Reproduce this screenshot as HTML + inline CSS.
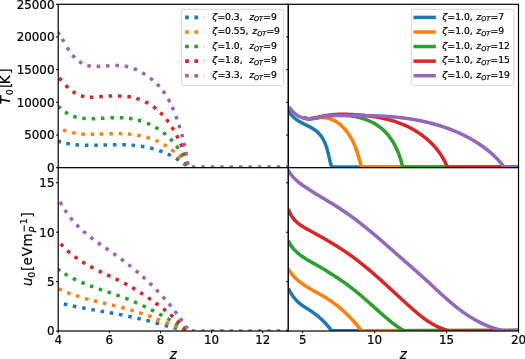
<!DOCTYPE html>
<html lang="en"><head><meta charset="utf-8"><title>T0 and u0 versus z</title>
<style>html,body{margin:0;padding:0;background:#fff}svg{display:block}text{font-family:"DejaVu Sans", "Liberation Sans", sans-serif;fill:#000;stroke:#000;stroke-width:0.22px}</style>
</head><body>
<svg width="525" height="359" viewBox="0 0 525 359">
<rect width="525" height="359" fill="#fff"/>
<defs>
<clipPath id="cTL"><rect x="58.2" y="4.3" width="230.10000000000002" height="163.39999999999998"/></clipPath>
<clipPath id="cTR"><rect x="288.3" y="4.3" width="230.2" height="163.39999999999998"/></clipPath>
<clipPath id="cBL"><rect x="58.2" y="167.7" width="230.10000000000002" height="163.3"/></clipPath>
<clipPath id="cBR"><rect x="288.3" y="167.7" width="230.2" height="163.3"/></clipPath>
</defs>
<g clip-path="url(#cTL)">
<path d="M57.66 140.97L61.05 142.02M66.33 143.3L69.82 143.94M75.47 144.68L79.01 144.99M84.89 145.27L88.44 145.33M94.27 145.28L97.81 145.2M103.48 145.02L107.02 144.9M112.9 144.73L116.45 144.67M122.34 144.69L125.89 144.79M131.59 145.13L135.13 145.45M140.93 146.19L144.43 146.78M150.17 147.98L153.61 148.85M159.18 150.55L162.52 151.76M167.77 153.96L170.97 155.51M175.96 158.29L178.96 160.2M183.45 163.45L186.2 165.7" stroke="#1f77b4" stroke-width="3.5" fill="none"/>
<path d="M62.99 129.83L66.33 131.05M72.17 132.62L75.66 133.26M81.34 133.92L84.89 134.14M90.65 134.24L94.2 134.19M99.84 134.02L103.39 133.9M109.28 133.7L112.83 133.63M118.72 133.62L122.26 133.7M127.91 134.02L131.44 134.37M137.25 135.21L140.73 135.89M146.42 137.29L149.81 138.33M155.33 140.35L158.58 141.77M163.75 144.42L166.79 146.25M171.48 149.53L174.24 151.77M178.31 155.61L180.71 158.24M184.31 162.87L186.27 165.84" stroke="#ff7f0e" stroke-width="3.5" fill="none"/>
<path d="M58.1 106.17L60.71 108.58M65.04 111.91L68.06 113.78M73.24 116.22L76.63 117.3M82.27 118.33L85.81 118.63M91.62 118.72L95.17 118.63M100.91 118.37L104.45 118.17M110.39 117.86L113.94 117.73M119.81 117.67L123.36 117.77M128.99 118.24L132.5 118.77M137.97 119.98L141.37 120.98M146.97 123.06L150.21 124.51M155.38 127.26L158.4 129.13M163.14 132.49L165.89 134.72M170.21 138.72L172.65 141.3M176.34 145.79L178.41 148.68M181.34 153.47L182.98 156.62M185.36 162.24L186.48 165.61" stroke="#2ca02c" stroke-width="3.5" fill="none"/>
<path d="M59.3 77.97L61.56 80.71M65.62 85.24L68.15 87.72M72.62 91.41L75.61 93.33M80.88 95.7L84.31 96.59M89.78 97.14L93.33 97.13M99.24 96.76L102.78 96.49M108.58 96.11L112.12 95.95M118.03 95.88L121.58 95.98M127.34 96.47L130.85 97M136.37 98.29L139.75 99.39M145.09 101.69L148.23 103.36M153.27 106.61L156.09 108.75M160.3 112.45L162.78 114.99M166.43 119.28L168.56 122.12M171.87 127.06L173.72 130.09M176.6 135.19L178.23 138.34M180.64 143.53L182 146.81M184.01 152.37L185.05 155.77M186.54 161.76L187.2 165.25" stroke="#d62728" stroke-width="3.5" fill="none"/>
<path d="M57.53 32.01L59.63 34.88M62.2 38.92L64 41.98M67.11 47.32L69 50.32M72.43 55.07L74.8 57.72M79.15 61.49L82.14 63.4M87.31 65.6L90.79 66.31M96.64 66.5L100.19 66.35M105.97 65.96L109.51 65.73M115.37 65.49L118.92 65.53M124.72 66.06L128.2 66.76M133.76 68.55L137.02 69.94M142.24 72.68L145.27 74.54M150.15 77.99L152.91 80.22M157 84L159.44 86.58M162.99 90.88L165.05 93.76M168.24 98.95L169.92 102.07M172.29 107.02L173.69 110.28M175.92 116.01L177.13 119.35M178.93 124.72L179.99 128.11M181.68 133.99L182.59 137.42M183.93 142.94L184.7 146.4M185.84 152.03L186.49 155.52M187.45 161.36L187.97 164.88" stroke="#9467bd" stroke-width="3.5" fill="none"/>
<path d="M191.82 166.9L195.38 166.9M201.25 166.9L204.81 166.9M210.68 166.9L214.23 166.9M220.11 166.9L223.66 166.9M229.54 166.9L233.09 166.9M238.97 166.9L242.53 166.9M248.41 166.9L251.96 166.9M257.84 166.9L261.38 166.9M267.26 166.9L270.81 166.9M276.7 166.9L280.25 166.9M286.12 166.9L289.67 166.9" stroke="#9467bd" stroke-width="3.5" fill="none"/>
</g>
<rect x="58.2" y="4.3" width="230.1" height="163.4" fill="none" stroke="#000" stroke-width="1.2"/>
<path d="M58.2 167.7h-2.2M58.2 135.02h-2.2M58.2 102.34h-2.2M58.2 69.66h-2.2M58.2 36.98h-2.2M58.2 4.3h-2.2" stroke="#000" stroke-width="1" fill="none"/>
<g clip-path="url(#cTR)">
<path d="M288.4 109.51 L288.51 109.82 L288.63 110.12 L288.76 110.42 L288.89 110.71 L289.02 111 L289.16 111.28 L289.29 111.56 L289.44 111.84 L289.58 112.11 L289.73 112.38 L289.89 112.65 L290.04 112.91 L290.2 113.17 L290.36 113.42 L290.53 113.67 L290.7 113.92 L290.87 114.16 L291.05 114.4 L291.23 114.64 L291.41 114.87 L291.59 115.1 L291.78 115.33 L291.97 115.56 L292.16 115.78 L292.36 115.99 L292.55 116.21 L292.76 116.42 L292.96 116.63 L293.16 116.84 L293.37 117.04 L293.58 117.24 L293.8 117.44 L294.01 117.63 L294.23 117.83 L294.45 118.02 L294.67 118.2 L294.89 118.39 L295.12 118.57 L295.35 118.75 L295.58 118.93 L295.81 119.11 L296.04 119.28 L296.28 119.46 L296.52 119.63 L296.76 119.79 L297 119.96 L297.24 120.13 L297.48 120.29 L297.73 120.45 L297.98 120.61 L298.23 120.77 L298.48 120.92 L298.73 121.08 L298.98 121.23 L299.23 121.38 L299.49 121.53 L299.74 121.68 L300 121.83 L300.26 121.98 L300.52 122.12 L300.78 122.27 L301.04 122.41 L301.3 122.55 L301.56 122.69 L301.83 122.83 L302.09 122.97 L302.36 123.11 L302.62 123.25 L302.89 123.39 L303.15 123.53 L303.42 123.66 L303.69 123.8 L303.96 123.93 L304.22 124.07 L304.49 124.2 L304.76 124.34 L305.03 124.47 L305.3 124.61 L305.57 124.74 L305.84 124.88 L306.11 125.01 L306.37 125.14 L306.64 125.28 L306.91 125.41 L307.18 125.55 L307.45 125.68 L307.71 125.82 L307.98 125.95 L308.25 126.09 L308.51 126.22 L308.78 126.36 L309.05 126.5 L309.31 126.64 L309.57 126.78 L309.84 126.92 L310.1 127.06 L310.36 127.2 L310.62 127.34 L310.88 127.48 L311.14 127.63 L311.4 127.77 L311.66 127.92 L311.91 128.07 L312.17 128.22 L312.42 128.37 L312.67 128.52 L312.92 128.67 L313.17 128.83 L313.42 128.98 L313.66 129.14 L313.91 129.3 L314.15 129.46 L314.39 129.62 L314.63 129.79 L314.87 129.95 L315.1 130.12 L315.34 130.29 L315.57 130.46 L315.8 130.64 L316.02 130.81 L316.25 130.99 L316.47 131.17 L316.69 131.35 L316.91 131.54 L317.13 131.73 L317.34 131.92 L317.55 132.11 L317.76 132.3 L317.97 132.5 L318.17 132.7 L318.37 132.9 L318.57 133.1 L318.77 133.31 L318.96 133.52 L319.16 133.73 L319.35 133.94 L319.54 134.15 L319.72 134.37 L319.91 134.59 L320.09 134.81 L320.27 135.03 L320.44 135.25 L320.62 135.48 L320.79 135.71 L320.96 135.94 L321.13 136.17 L321.3 136.4 L321.47 136.63 L321.63 136.87 L321.79 137.11 L321.95 137.35 L322.1 137.59 L322.26 137.84 L322.41 138.08 L322.56 138.33 L322.71 138.58 L322.86 138.83 L323 139.08 L323.15 139.33 L323.29 139.59 L323.43 139.84 L323.56 140.1 L323.7 140.36 L323.83 140.62 L323.97 140.88 L324.1 141.14 L324.22 141.41 L324.35 141.67 L324.48 141.94 L324.6 142.21 L324.72 142.48 L324.84 142.75 L324.96 143.02 L325.07 143.29 L325.19 143.57 L325.3 143.84 L325.41 144.12 L325.52 144.4 L325.63 144.67 L325.73 144.95 L325.84 145.23 L325.94 145.51 L326.04 145.8 L326.14 146.08 L326.24 146.36 L326.34 146.65 L326.43 146.93 L326.52 147.22 L326.62 147.51 L326.71 147.79 L326.8 148.08 L326.88 148.37 L326.97 148.66 L327.06 148.95 L327.14 149.24 L327.22 149.54 L327.31 149.83 L327.39 150.12 L327.47 150.41 L327.54 150.71 L327.62 151 L327.7 151.3 L327.78 151.59 L327.85 151.89 L327.93 152.18 L328 152.48 L328.07 152.77 L328.14 153.07 L328.22 153.36 L328.29 153.66 L328.36 153.95 L328.43 154.25 L328.5 154.55 L328.57 154.84 L328.64 155.14 L328.7 155.44 L328.77 155.73 L328.84 156.03 L328.91 156.32 L328.98 156.62 L329.04 156.91 L329.11 157.21 L329.18 157.5 L329.25 157.8 L329.32 158.09 L329.38 158.38 L329.45 158.68 L329.52 158.97 L329.59 159.26 L329.66 159.55 L329.73 159.84 L329.8 160.13 L329.87 160.42 L329.94 160.71 L330.01 161 L330.08 161.29 L330.15 161.57 L330.22 161.86 L330.3 162.15 L330.37 162.43 L330.45 162.71 L330.52 163 L330.6 163.28 L330.67 163.56 L330.75 163.84 L330.83 164.12 L330.91 164.39 L330.99 164.67 L331.08 164.95 L331.16 165.22 L331.24 165.49 L331.33 165.76 L331.42 166.03 L331.5 166.3 L331.59 166.57 L331.69 166.84 L331.78 167.1 L331.87 167.37 L331.97 167.63 L333.47 167.1 L518.5 167.1" stroke="#1f77b4" stroke-width="3.5" fill="none" stroke-linejoin="round"/>
<path d="M303.12 117.92 L303.49 118.01 L303.87 118.1 L304.26 118.18 L304.64 118.26 L305.03 118.33 L305.43 118.39 L305.82 118.45 L306.22 118.5 L306.61 118.54 L307.02 118.58 L307.42 118.61 L307.82 118.63 L308.23 118.65 L308.64 118.66 L309.05 118.66 L309.46 118.66 L309.87 118.65 L310.29 118.64 L310.7 118.62 L311.12 118.6 L311.54 118.57 L311.96 118.53 L312.38 118.48 L312.8 118.43 L313.22 118.38 L313.64 118.32 L314.07 118.25 L314.49 118.19 L314.91 118.13 L315.34 118.06 L315.76 118 L316.19 117.95 L316.61 117.89 L317.04 117.85 L317.46 117.8 L317.88 117.76 L318.31 117.73 L318.73 117.7 L319.15 117.67 L319.58 117.64 L320 117.61 L320.42 117.59 L320.84 117.57 L321.26 117.56 L321.67 117.55 L322.09 117.55 L322.51 117.55 L322.92 117.56 L323.33 117.58 L323.74 117.6 L324.15 117.63 L324.56 117.66 L324.97 117.71 L325.37 117.75 L325.77 117.81 L326.17 117.87 L326.57 117.94 L326.97 118.02 L327.36 118.1 L327.76 118.19 L328.15 118.28 L328.54 118.38 L328.93 118.49 L329.31 118.6 L329.7 118.72 L330.08 118.85 L330.46 118.98 L330.84 119.12 L331.21 119.26 L331.58 119.41 L331.96 119.56 L332.33 119.72 L332.69 119.89 L333.06 120.06 L333.42 120.23 L333.79 120.41 L334.14 120.6 L334.5 120.79 L334.86 120.98 L335.21 121.19 L335.56 121.39 L335.91 121.6 L336.25 121.82 L336.6 122.04 L336.94 122.26 L337.28 122.49 L337.62 122.72 L337.95 122.96 L338.28 123.2 L338.61 123.44 L338.94 123.69 L339.27 123.95 L339.59 124.2 L339.91 124.46 L340.23 124.73 L340.54 125 L340.86 125.27 L341.17 125.55 L341.48 125.82 L341.78 126.11 L342.08 126.39 L342.38 126.68 L342.68 126.97 L342.98 127.27 L343.27 127.57 L343.56 127.87 L343.85 128.17 L344.13 128.48 L344.41 128.79 L344.69 129.1 L344.97 129.41 L345.24 129.73 L345.52 130.05 L345.78 130.37 L346.05 130.69 L346.31 131.02 L346.57 131.35 L346.83 131.68 L347.08 132.01 L347.34 132.34 L347.58 132.68 L347.83 133.01 L348.07 133.35 L348.31 133.69 L348.55 134.03 L348.78 134.38 L349.02 134.72 L349.24 135.07 L349.47 135.42 L349.69 135.76 L349.91 136.11 L350.13 136.47 L350.34 136.82 L350.56 137.17 L350.77 137.53 L350.97 137.88 L351.18 138.24 L351.38 138.6 L351.58 138.96 L351.77 139.32 L351.97 139.69 L352.16 140.05 L352.35 140.41 L352.54 140.78 L352.72 141.15 L352.9 141.52 L353.08 141.89 L353.26 142.26 L353.44 142.63 L353.61 143 L353.78 143.37 L353.95 143.75 L354.12 144.12 L354.28 144.5 L354.44 144.88 L354.61 145.26 L354.76 145.63 L354.92 146.01 L355.08 146.39 L355.23 146.78 L355.38 147.16 L355.53 147.54 L355.68 147.93 L355.82 148.31 L355.97 148.7 L356.11 149.08 L356.25 149.47 L356.39 149.86 L356.53 150.24 L356.66 150.63 L356.8 151.02 L356.93 151.41 L357.06 151.8 L357.19 152.19 L357.32 152.58 L357.44 152.98 L357.57 153.37 L357.69 153.76 L357.82 154.15 L357.94 154.55 L358.06 154.94 L358.18 155.34 L358.29 155.73 L358.41 156.13 L358.52 156.52 L358.64 156.92 L358.75 157.32 L358.86 157.71 L358.97 158.11 L359.08 158.51 L359.19 158.9 L359.3 159.3 L359.41 159.7 L359.51 160.1 L359.62 160.5 L359.72 160.89 L359.83 161.29 L359.93 161.69 L360.03 162.09 L360.13 162.49 L360.23 162.89 L360.33 163.29 L360.43 163.68 L360.53 164.08 L360.63 164.48 L360.73 164.88 L360.82 165.28 L360.92 165.68 L361.02 166.08 L361.11 166.47 L361.21 166.87 L361.3 167.27 L361.4 167.67 L362.9 167.1 L518.5 167.1" stroke="#ff7f0e" stroke-width="3.5" fill="none" stroke-linejoin="round"/>
<path d="M303.33 117.97 L303.86 118.1 L304.39 118.21 L304.93 118.31 L305.47 118.4 L306.01 118.47 L306.56 118.54 L307.12 118.58 L307.67 118.62 L308.23 118.65 L308.8 118.66 L309.36 118.67 L309.92 118.65 L310.49 118.63 L311.06 118.6 L311.63 118.56 L312.2 118.49 L312.77 118.41 L313.34 118.32 L313.9 118.21 L314.47 118.09 L315.04 117.97 L315.6 117.84 L316.17 117.71 L316.73 117.58 L317.3 117.45 L317.86 117.33 L318.42 117.22 L318.98 117.11 L319.54 117.01 L320.11 116.92 L320.67 116.84 L321.23 116.76 L321.79 116.69 L322.35 116.61 L322.9 116.54 L323.46 116.47 L324.02 116.4 L324.58 116.33 L325.14 116.26 L325.69 116.2 L326.25 116.13 L326.81 116.07 L327.36 116.01 L327.92 115.95 L328.48 115.89 L329.03 115.84 L329.59 115.78 L330.14 115.73 L330.7 115.68 L331.25 115.63 L331.81 115.59 L332.36 115.54 L332.92 115.5 L333.48 115.47 L334.03 115.43 L334.59 115.4 L335.14 115.37 L335.7 115.34 L336.26 115.31 L336.81 115.29 L337.37 115.27 L337.92 115.26 L338.48 115.25 L339.04 115.24 L339.6 115.23 L340.15 115.23 L340.71 115.23 L341.27 115.23 L341.83 115.24 L342.39 115.25 L342.95 115.27 L343.51 115.29 L344.07 115.31 L344.63 115.33 L345.19 115.37 L345.75 115.4 L346.31 115.44 L346.88 115.48 L347.44 115.53 L348 115.58 L348.57 115.64 L349.13 115.7 L349.7 115.76 L350.26 115.83 L350.83 115.9 L351.39 115.98 L351.96 116.06 L352.52 116.15 L353.08 116.24 L353.65 116.33 L354.21 116.43 L354.77 116.54 L355.34 116.64 L355.9 116.76 L356.46 116.87 L357.02 116.99 L357.58 117.12 L358.14 117.25 L358.69 117.39 L359.25 117.52 L359.8 117.67 L360.36 117.82 L360.91 117.97 L361.46 118.13 L362.01 118.29 L362.56 118.46 L363.1 118.63 L363.65 118.8 L364.19 118.99 L364.73 119.17 L365.27 119.36 L365.8 119.56 L366.34 119.76 L366.87 119.96 L367.4 120.17 L367.93 120.38 L368.45 120.6 L368.98 120.82 L369.5 121.05 L370.01 121.29 L370.53 121.52 L371.04 121.77 L371.55 122.01 L372.05 122.27 L372.56 122.52 L373.06 122.78 L373.55 123.05 L374.05 123.32 L374.54 123.6 L375.02 123.88 L375.51 124.17 L375.99 124.46 L376.46 124.76 L376.93 125.06 L377.4 125.37 L377.87 125.68 L378.33 125.99 L378.78 126.32 L379.23 126.64 L379.68 126.98 L380.13 127.31 L380.57 127.66 L381 128 L381.43 128.36 L381.86 128.71 L382.28 129.08 L382.7 129.44 L383.11 129.82 L383.52 130.19 L383.92 130.57 L384.32 130.96 L384.72 131.35 L385.11 131.75 L385.49 132.15 L385.88 132.55 L386.25 132.96 L386.63 133.37 L387 133.79 L387.36 134.21 L387.72 134.64 L388.08 135.07 L388.43 135.5 L388.78 135.94 L389.13 136.38 L389.47 136.82 L389.8 137.27 L390.13 137.72 L390.46 138.18 L390.79 138.64 L391.1 139.1 L391.42 139.56 L391.73 140.03 L392.04 140.5 L392.34 140.98 L392.64 141.46 L392.94 141.94 L393.23 142.42 L393.51 142.91 L393.8 143.4 L394.08 143.89 L394.35 144.38 L394.62 144.88 L394.89 145.38 L395.15 145.88 L395.41 146.39 L395.67 146.89 L395.92 147.4 L396.17 147.91 L396.41 148.43 L396.65 148.94 L396.89 149.46 L397.12 149.98 L397.35 150.5 L397.57 151.02 L397.79 151.55 L398.01 152.07 L398.23 152.6 L398.44 153.13 L398.64 153.66 L398.84 154.19 L399.04 154.72 L399.24 155.26 L399.43 155.79 L399.62 156.33 L399.8 156.87 L399.98 157.41 L400.16 157.95 L400.33 158.49 L400.5 159.03 L400.67 159.57 L400.83 160.11 L400.99 160.65 L401.15 161.2 L401.3 161.74 L401.45 162.29 L401.59 162.83 L401.74 163.38 L401.87 163.92 L402.01 164.46 L402.14 165.01 L402.27 165.55 L402.39 166.1 L402.52 166.64 L402.63 167.19 L402.75 167.73 L404.25 167.1 L518.5 167.1" stroke="#2ca02c" stroke-width="3.5" fill="none" stroke-linejoin="round"/>
<path d="M303.4 117.99 L304.07 118.15 L304.75 118.28 L305.43 118.39 L306.11 118.48 L306.79 118.56 L307.48 118.61 L308.17 118.64 L308.86 118.66 L309.55 118.66 L310.24 118.65 L310.94 118.61 L311.63 118.56 L312.33 118.49 L313.03 118.41 L313.73 118.31 L314.43 118.19 L315.14 118.06 L315.84 117.91 L316.55 117.76 L317.25 117.59 L317.96 117.41 L318.67 117.23 L319.38 117.05 L320.09 116.87 L320.79 116.7 L321.5 116.54 L322.21 116.38 L322.92 116.23 L323.64 116.07 L324.35 115.93 L325.06 115.79 L325.77 115.65 L326.48 115.53 L327.19 115.41 L327.9 115.3 L328.61 115.19 L329.32 115.09 L330.03 115 L330.74 114.91 L331.45 114.83 L332.16 114.76 L332.86 114.69 L333.57 114.63 L334.28 114.57 L334.99 114.52 L335.7 114.48 L336.41 114.44 L337.12 114.4 L337.83 114.37 L338.54 114.34 L339.25 114.32 L339.96 114.31 L340.67 114.29 L341.38 114.28 L342.09 114.28 L342.79 114.28 L343.5 114.28 L344.21 114.29 L344.92 114.3 L345.63 114.31 L346.34 114.32 L347.05 114.34 L347.76 114.36 L348.47 114.39 L349.18 114.41 L349.89 114.44 L350.6 114.47 L351.31 114.51 L352.02 114.54 L352.73 114.58 L353.44 114.62 L354.15 114.66 L354.86 114.7 L355.57 114.74 L356.28 114.79 L356.99 114.83 L357.7 114.88 L358.41 114.93 L359.12 114.99 L359.83 115.04 L360.54 115.1 L361.25 115.16 L361.96 115.22 L362.67 115.29 L363.38 115.35 L364.09 115.42 L364.8 115.49 L365.51 115.57 L366.21 115.64 L366.92 115.72 L367.63 115.8 L368.33 115.89 L369.04 115.97 L369.75 116.06 L370.45 116.16 L371.16 116.25 L371.86 116.35 L372.56 116.45 L373.27 116.55 L373.97 116.66 L374.67 116.77 L375.37 116.88 L376.07 116.99 L376.77 117.11 L377.47 117.23 L378.17 117.36 L378.86 117.49 L379.56 117.62 L380.26 117.75 L380.95 117.89 L381.64 118.03 L382.34 118.18 L383.03 118.32 L383.72 118.48 L384.41 118.63 L385.1 118.79 L385.78 118.95 L386.47 119.12 L387.16 119.29 L387.84 119.46 L388.52 119.64 L389.21 119.82 L389.89 120 L390.57 120.19 L391.25 120.39 L391.92 120.58 L392.6 120.78 L393.27 120.99 L393.95 121.2 L394.62 121.41 L395.29 121.63 L395.96 121.85 L396.62 122.08 L397.29 122.31 L397.95 122.54 L398.62 122.78 L399.28 123.02 L399.94 123.27 L400.6 123.52 L401.25 123.78 L401.91 124.04 L402.56 124.31 L403.21 124.58 L403.86 124.86 L404.51 125.14 L405.16 125.42 L405.8 125.71 L406.45 126.01 L407.09 126.31 L407.73 126.61 L408.36 126.92 L409 127.24 L409.63 127.56 L410.26 127.89 L410.89 128.22 L411.52 128.55 L412.15 128.9 L412.77 129.24 L413.39 129.59 L414.01 129.95 L414.63 130.31 L415.24 130.68 L415.85 131.06 L416.46 131.43 L417.07 131.82 L417.67 132.21 L418.27 132.6 L418.87 133 L419.47 133.4 L420.06 133.81 L420.65 134.23 L421.24 134.65 L421.82 135.07 L422.4 135.5 L422.98 135.93 L423.55 136.37 L424.12 136.81 L424.68 137.26 L425.24 137.72 L425.8 138.17 L426.36 138.63 L426.9 139.1 L427.45 139.57 L427.99 140.05 L428.53 140.53 L429.06 141.01 L429.59 141.5 L430.11 141.99 L430.63 142.49 L431.14 142.99 L431.65 143.5 L432.16 144.01 L432.66 144.53 L433.15 145.04 L433.64 145.57 L434.12 146.09 L434.6 146.63 L435.07 147.16 L435.54 147.7 L436 148.24 L436.46 148.79 L436.91 149.34 L437.35 149.9 L437.79 150.46 L438.22 151.02 L438.65 151.58 L439.07 152.16 L439.48 152.73 L439.89 153.31 L440.29 153.89 L440.68 154.47 L441.07 155.06 L441.45 155.65 L441.83 156.25 L442.19 156.85 L442.55 157.45 L442.91 158.05 L443.25 158.66 L443.59 159.27 L443.92 159.89 L444.24 160.51 L444.56 161.13 L444.87 161.76 L445.17 162.38 L445.46 163.01 L445.75 163.65 L446.02 164.29 L446.29 164.93 L446.55 165.57 L446.81 166.22 L447.05 166.87 L447.29 167.52 L448.79 167.1 L518.5 167.1" stroke="#d62728" stroke-width="3.5" fill="none" stroke-linejoin="round"/>
<path d="M288.47 106.57 L289.06 107.3 L289.67 108.03 L290.28 108.75 L290.9 109.47 L291.53 110.18 L292.17 110.87 L292.82 111.55 L293.48 112.2 L294.16 112.84 L294.84 113.45 L295.54 114.04 L296.25 114.59 L296.98 115.12 L297.72 115.6 L298.48 116.05 L299.25 116.46 L300.03 116.84 L300.83 117.17 L301.64 117.47 L302.46 117.74 L303.3 117.97 L304.14 118.16 L304.99 118.32 L305.85 118.45 L306.72 118.55 L307.6 118.62 L308.48 118.66 L309.36 118.67 L310.26 118.65 L311.15 118.6 L312.05 118.53 L312.95 118.44 L313.86 118.33 L314.77 118.2 L315.68 118.06 L316.59 117.91 L317.51 117.74 L318.42 117.58 L319.34 117.4 L320.26 117.23 L321.17 117.05 L322.09 116.88 L323.01 116.72 L323.93 116.56 L324.84 116.41 L325.76 116.28 L326.67 116.16 L327.58 116.05 L328.49 115.95 L329.4 115.87 L330.31 115.79 L331.22 115.72 L332.12 115.67 L333.03 115.62 L333.93 115.58 L334.84 115.55 L335.74 115.52 L336.64 115.5 L337.55 115.49 L338.45 115.48 L339.35 115.48 L340.25 115.47 L341.15 115.47 L342.06 115.48 L342.96 115.48 L343.86 115.49 L344.76 115.5 L345.66 115.5 L346.57 115.51 L347.47 115.51 L348.37 115.52 L349.28 115.52 L350.18 115.53 L351.09 115.53 L351.99 115.54 L352.9 115.54 L353.8 115.54 L354.71 115.55 L355.61 115.55 L356.52 115.56 L357.43 115.56 L358.33 115.57 L359.24 115.58 L360.15 115.58 L361.06 115.59 L361.96 115.6 L362.87 115.61 L363.78 115.62 L364.69 115.63 L365.6 115.64 L366.5 115.66 L367.41 115.67 L368.32 115.69 L369.23 115.7 L370.14 115.72 L371.05 115.74 L371.96 115.76 L372.87 115.79 L373.77 115.81 L374.68 115.84 L375.59 115.87 L376.5 115.9 L377.41 115.93 L378.32 115.96 L379.23 116 L380.14 116.04 L381.04 116.08 L381.95 116.13 L382.86 116.17 L383.77 116.22 L384.68 116.27 L385.59 116.33 L386.5 116.38 L387.4 116.44 L388.31 116.5 L389.22 116.57 L390.13 116.64 L391.03 116.71 L391.94 116.78 L392.85 116.86 L393.75 116.94 L394.66 117.02 L395.56 117.11 L396.47 117.19 L397.37 117.29 L398.28 117.38 L399.18 117.48 L400.09 117.58 L400.99 117.68 L401.89 117.79 L402.79 117.9 L403.7 118.01 L404.6 118.13 L405.5 118.25 L406.4 118.37 L407.3 118.5 L408.2 118.63 L409.09 118.76 L409.99 118.9 L410.89 119.04 L411.78 119.19 L412.68 119.33 L413.57 119.48 L414.47 119.64 L415.36 119.8 L416.25 119.96 L417.15 120.12 L418.04 120.29 L418.93 120.46 L419.82 120.64 L420.71 120.82 L421.59 121 L422.48 121.19 L423.37 121.38 L424.25 121.58 L425.13 121.77 L426.02 121.98 L426.9 122.18 L427.78 122.39 L428.66 122.61 L429.54 122.83 L430.42 123.05 L431.29 123.28 L432.17 123.51 L433.04 123.74 L433.91 123.98 L434.79 124.22 L435.66 124.47 L436.53 124.72 L437.39 124.98 L438.26 125.24 L439.13 125.5 L439.99 125.77 L440.85 126.04 L441.72 126.32 L442.58 126.6 L443.44 126.88 L444.29 127.17 L445.15 127.47 L446.01 127.77 L446.86 128.07 L447.71 128.38 L448.56 128.69 L449.41 129.01 L450.26 129.33 L451.1 129.66 L451.95 129.99 L452.79 130.33 L453.63 130.67 L454.47 131.01 L455.31 131.36 L456.15 131.72 L456.98 132.08 L457.81 132.44 L458.64 132.81 L459.47 133.18 L460.3 133.56 L461.13 133.95 L461.95 134.34 L462.77 134.73 L463.59 135.13 L464.41 135.53 L465.23 135.94 L466.04 136.36 L466.85 136.78 L467.66 137.2 L468.46 137.63 L469.27 138.07 L470.07 138.51 L470.87 138.95 L471.66 139.4 L472.45 139.86 L473.24 140.32 L474.02 140.78 L474.8 141.26 L475.58 141.73 L476.36 142.21 L477.13 142.7 L477.89 143.19 L478.66 143.69 L479.42 144.2 L480.17 144.7 L480.92 145.22 L481.67 145.74 L482.41 146.26 L483.15 146.79 L483.89 147.33 L484.61 147.87 L485.34 148.42 L486.06 148.97 L486.77 149.53 L487.48 150.1 L488.19 150.67 L488.89 151.24 L489.58 151.82 L490.27 152.41 L490.96 153 L491.64 153.6 L492.31 154.2 L492.98 154.81 L493.64 155.43 L494.29 156.05 L494.94 156.68 L495.59 157.31 L496.22 157.95 L496.86 158.6 L497.48 159.25 L498.1 159.9 L498.71 160.57 L499.32 161.24 L499.92 161.91 L500.51 162.59 L501.09 163.28 L501.67 163.97 L502.24 164.67 L502.81 165.37 L503.36 166.08 L503.91 166.8 L504.45 167.53 L505.95 167.1 L518.5 167.1" stroke="#9467bd" stroke-width="3.5" fill="none" stroke-linejoin="round"/>
</g>
<rect x="288.3" y="4.3" width="230.2" height="163.4" fill="none" stroke="#000" stroke-width="1.2"/>
<path d="M288.3 167.7h-2.2M288.3 135.02h-2.2M288.3 102.34h-2.2M288.3 69.66h-2.2M288.3 36.98h-2.2M288.3 4.3h-2.2" stroke="#000" stroke-width="1" fill="none"/>
<rect x="58.2" y="167.7" width="230.10000000000002" height="163.3" fill="#fff"/>
<g clip-path="url(#cBL)">
<path d="M63.88 303.97L67.34 304.78M72.85 305.99L76.33 306.71M82.14 307.84L85.63 308.49M91.36 309.52L94.86 310.13M100.57 311.11L104.07 311.71M109.74 312.69L113.24 313.31M118.96 314.36L122.45 315.03M128.25 316.19L131.72 316.93M137.37 318.21L140.82 319.03M146.44 320.42L149.88 321.3M155.59 322.8L159.02 323.72M164.74 325.27L168.16 326.2M173.56 327.68L176.98 328.61M182.12 330L185.55 330.92" stroke="#1f77b4" stroke-width="3.5" fill="none"/>
<path d="M58.71 288.73L61.91 290.25M67.21 292.5L70.52 293.78M75.82 295.63L79.2 296.7M85.01 298.4L88.44 299.33M93.92 300.73L97.37 301.57M102.91 302.88L106.37 303.69M111.94 305L115.39 305.84M121.18 307.29L124.61 308.21M130.32 309.84L133.72 310.87M139.22 312.61L142.59 313.73M148.14 315.66L151.48 316.86M156.7 318.81L160.02 320.08M165.53 322.27L168.82 323.6M174.1 325.8L177.37 327.19M181.71 329.07L184.96 330.49" stroke="#ff7f0e" stroke-width="3.5" fill="none"/>
<path d="M57.42 268.84L60.31 270.91M64.61 273.71L67.66 275.52M72.9 278.34L76.09 279.9M81.5 282.34L84.78 283.7M90 285.74L93.33 286.97M98.74 288.88L102.1 290.04M107.53 291.88L110.89 293.02M116.36 294.9L119.7 296.08M125.35 298.17L128.65 299.46M133.94 301.66L137.19 303.08M142.55 305.53L145.75 307.07M150.94 309.65L154.1 311.27M159.22 313.99L162.34 315.69M167.39 318.52L170.46 320.29M175.31 323.18L178.33 325.05M182.76 327.88L185.71 329.84" stroke="#2ca02c" stroke-width="3.5" fill="none"/>
<path d="M60.69 243.8L63.06 246.44M67.32 250.64L69.98 252.99M74.53 256.57L77.41 258.64M82.27 261.81L85.32 263.65M90.29 266.44L93.43 268.1M98.79 270.81L101.99 272.36M107.2 274.85L110.4 276.38M115.62 278.88L118.81 280.44M124.13 283.15L127.26 284.82M132.14 287.57L135.2 289.37M140.22 292.48L143.21 294.4M148.04 297.64L150.96 299.66M155.58 302.97L158.44 305.07M163.14 308.64L165.93 310.84M170.4 314.51L173.09 316.83M177.27 320.62L179.83 323.08M183.62 326.96L186.02 329.59" stroke="#d62728" stroke-width="3.5" fill="none"/>
<path d="M60.07 201.9L61.78 205.01M64.79 209.95L66.78 212.89M70.37 217.68L72.63 220.42M76.52 224.71L79.01 227.23M83.27 231.19L85.96 233.51M90.39 237.1L93.2 239.26M97.95 242.73L100.85 244.78M105.55 248.04L108.48 250.05M113.37 253.44L116.27 255.49M121.02 258.93L123.86 261.06M128.37 264.53L131.15 266.74M135.77 270.56L138.47 272.87M142.71 276.62L145.33 279.02M149.57 283.02L152.1 285.5M156.17 289.62L158.62 292.19M162.74 296.66L165.1 299.32M168.88 303.73L171.14 306.46M174.77 311L176.93 313.81M180.22 318.24L182.29 321.12M185.55 325.85L187.51 328.81" stroke="#9467bd" stroke-width="3.5" fill="none"/>
<path d="M191.82 330.9L195.38 330.9M201.25 330.9L204.81 330.9M210.68 330.9L214.23 330.9M220.11 330.9L223.66 330.9M229.54 330.9L233.09 330.9M238.97 330.9L242.53 330.9M248.41 330.9L251.96 330.9M257.84 330.9L261.38 330.9M267.26 330.9L270.81 330.9M276.7 330.9L280.25 330.9M286.12 330.9L289.67 330.9" stroke="#9467bd" stroke-width="3.5" fill="none"/>
</g>
<rect x="58.2" y="167.7" width="230.1" height="163.3" fill="none" stroke="#000" stroke-width="1.2"/>
<path d="M58.2 331h-2.2M58.2 281.6h-2.2M58.2 232.21h-2.2M58.2 182.81h-2.2" stroke="#000" stroke-width="1" fill="none"/>
<path d="M58.2 331v2.2M109.33 331v2.2M160.47 331v2.2M211.6 331v2.2M262.73 331v2.2" stroke="#000" stroke-width="1" fill="none"/>
<rect x="288.3" y="167.7" width="230.2" height="163.3" fill="#fff"/>
<g clip-path="url(#cBR)">
<path d="M288.42 288.56 L288.51 288.75 L288.6 288.94 L288.7 289.13 L288.79 289.31 L288.88 289.5 L288.98 289.68 L289.08 289.87 L289.17 290.05 L289.27 290.24 L289.37 290.42 L289.47 290.6 L289.57 290.79 L289.67 290.97 L289.77 291.15 L289.87 291.33 L289.97 291.52 L290.07 291.7 L290.17 291.88 L290.28 292.06 L290.38 292.24 L290.49 292.41 L290.59 292.59 L290.7 292.77 L290.81 292.95 L290.91 293.12 L291.02 293.3 L291.13 293.48 L291.24 293.65 L291.35 293.83 L291.46 294 L291.57 294.17 L291.69 294.35 L291.8 294.52 L291.91 294.69 L292.03 294.86 L292.14 295.03 L292.26 295.2 L292.37 295.37 L292.49 295.54 L292.61 295.71 L292.72 295.88 L292.84 296.05 L292.96 296.21 L293.08 296.38 L293.2 296.54 L293.33 296.71 L293.45 296.87 L293.57 297.04 L293.7 297.2 L293.82 297.36 L293.95 297.52 L294.07 297.68 L294.2 297.84 L294.33 298 L294.45 298.16 L294.58 298.32 L294.71 298.47 L294.84 298.63 L294.97 298.79 L295.11 298.94 L295.24 299.1 L295.37 299.25 L295.51 299.4 L295.64 299.55 L295.78 299.71 L295.91 299.86 L296.05 300.01 L296.19 300.15 L296.33 300.3 L296.47 300.45 L296.61 300.6 L296.75 300.74 L296.89 300.89 L297.03 301.03 L297.17 301.17 L297.32 301.32 L297.46 301.46 L297.61 301.6 L297.75 301.74 L297.9 301.88 L298.05 302.02 L298.2 302.15 L298.35 302.29 L298.5 302.43 L298.65 302.56 L298.8 302.7 L298.95 302.83 L299.1 302.96 L299.26 303.09 L299.41 303.22 L299.57 303.35 L299.73 303.48 L299.88 303.61 L300.04 303.74 L300.2 303.86 L300.36 303.99 L300.52 304.11 L300.68 304.24 L300.84 304.36 L301 304.48 L301.16 304.6 L301.33 304.72 L301.49 304.84 L301.65 304.96 L301.82 305.08 L301.98 305.2 L302.15 305.32 L302.32 305.44 L302.48 305.55 L302.65 305.67 L302.82 305.79 L302.99 305.9 L303.16 306.02 L303.32 306.13 L303.49 306.25 L303.66 306.36 L303.83 306.47 L304 306.58 L304.17 306.7 L304.35 306.81 L304.52 306.92 L304.69 307.03 L304.86 307.14 L305.03 307.25 L305.2 307.37 L305.38 307.48 L305.55 307.59 L305.72 307.7 L305.9 307.81 L306.07 307.92 L306.24 308.03 L306.42 308.13 L306.59 308.24 L306.76 308.35 L306.94 308.46 L307.11 308.57 L307.28 308.68 L307.46 308.79 L307.63 308.9 L307.81 309.01 L307.98 309.12 L308.15 309.23 L308.33 309.34 L308.5 309.44 L308.67 309.55 L308.85 309.66 L309.02 309.77 L309.19 309.88 L309.37 309.99 L309.54 310.1 L309.71 310.21 L309.88 310.32 L310.06 310.44 L310.23 310.55 L310.4 310.66 L310.57 310.77 L310.74 310.88 L310.91 310.99 L311.08 311.11 L311.25 311.22 L311.42 311.33 L311.59 311.45 L311.76 311.56 L311.93 311.68 L312.1 311.79 L312.27 311.91 L312.44 312.02 L312.6 312.14 L312.77 312.26 L312.94 312.37 L313.1 312.49 L313.27 312.61 L313.44 312.73 L313.6 312.85 L313.77 312.97 L313.93 313.09 L314.09 313.21 L314.26 313.33 L314.42 313.45 L314.59 313.57 L314.75 313.69 L314.91 313.81 L315.07 313.93 L315.24 314.06 L315.4 314.18 L315.56 314.3 L315.72 314.42 L315.88 314.55 L316.04 314.67 L316.2 314.8 L316.36 314.92 L316.52 315.05 L316.68 315.18 L316.84 315.3 L317 315.43 L317.15 315.56 L317.31 315.68 L317.47 315.81 L317.63 315.94 L317.78 316.07 L317.94 316.2 L318.09 316.33 L318.25 316.46 L318.41 316.59 L318.56 316.72 L318.71 316.85 L318.87 316.98 L319.02 317.11 L319.18 317.24 L319.33 317.38 L319.48 317.51 L319.63 317.64 L319.79 317.78 L319.94 317.91 L320.09 318.05 L320.24 318.18 L320.39 318.32 L320.54 318.45 L320.69 318.59 L320.84 318.72 L320.99 318.86 L321.14 319 L321.29 319.14 L321.44 319.28 L321.59 319.41 L321.73 319.55 L321.88 319.69 L322.03 319.83 L322.17 319.97 L322.32 320.11 L322.47 320.25 L322.61 320.39 L322.76 320.54 L322.9 320.68 L323.05 320.82 L323.19 320.96 L323.33 321.11 L323.48 321.25 L323.62 321.39 L323.76 321.54 L323.91 321.68 L324.05 321.83 L324.19 321.97 L324.33 322.12 L324.47 322.27 L324.61 322.41 L324.75 322.56 L324.89 322.71 L325.03 322.85 L325.17 323 L325.31 323.15 L325.45 323.3 L325.59 323.45 L325.73 323.6 L325.86 323.75 L326 323.9 L326.14 324.05 L326.27 324.2 L326.41 324.36 L326.55 324.51 L326.68 324.66 L326.82 324.81 L326.95 324.97 L327.09 325.12 L327.22 325.28 L327.35 325.43 L327.49 325.58 L327.62 325.74 L327.75 325.9 L327.88 326.05 L328.02 326.21 L328.15 326.37 L328.28 326.52 L328.41 326.68 L328.54 326.84 L328.67 327 L328.8 327.16 L328.93 327.32 L329.06 327.48 L329.19 327.64 L329.32 327.8 L329.44 327.96 L329.57 328.12 L329.7 328.28 L329.83 328.44 L329.95 328.6 L330.08 328.77 L330.21 328.93 L330.33 329.09 L330.46 329.26 L330.58 329.42 L330.71 329.59 L330.83 329.75 L330.96 329.92 L331.08 330.08 L331.2 330.25 L331.33 330.41 L331.45 330.58 L331.57 330.75 L518.5 330.6" stroke="#1f77b4" stroke-width="3.5" fill="none" stroke-linejoin="round" stroke-linecap="butt"/>
<path d="M288.3 268.66 L288.46 268.96 L288.63 269.26 L288.79 269.55 L288.96 269.84 L289.13 270.13 L289.31 270.41 L289.48 270.7 L289.66 270.98 L289.84 271.26 L290.02 271.53 L290.2 271.81 L290.39 272.08 L290.58 272.35 L290.76 272.62 L290.96 272.88 L291.15 273.15 L291.34 273.41 L291.54 273.67 L291.74 273.92 L291.94 274.18 L292.14 274.43 L292.34 274.68 L292.54 274.93 L292.75 275.18 L292.96 275.42 L293.17 275.67 L293.38 275.91 L293.59 276.15 L293.81 276.38 L294.02 276.62 L294.24 276.85 L294.46 277.09 L294.68 277.32 L294.9 277.54 L295.13 277.77 L295.35 278 L295.58 278.22 L295.81 278.44 L296.04 278.66 L296.27 278.88 L296.5 279.1 L296.73 279.31 L296.97 279.52 L297.21 279.74 L297.44 279.95 L297.68 280.16 L297.92 280.36 L298.16 280.57 L298.41 280.77 L298.65 280.98 L298.9 281.18 L299.14 281.38 L299.39 281.58 L299.64 281.78 L299.89 281.97 L300.14 282.17 L300.39 282.36 L300.64 282.56 L300.9 282.75 L301.15 282.94 L301.41 283.13 L301.67 283.32 L301.93 283.5 L302.18 283.69 L302.44 283.87 L302.71 284.06 L302.97 284.24 L303.23 284.42 L303.49 284.6 L303.76 284.78 L304.02 284.96 L304.29 285.14 L304.56 285.32 L304.83 285.49 L305.09 285.67 L305.36 285.84 L305.63 286.01 L305.9 286.19 L306.18 286.36 L306.45 286.53 L306.72 286.7 L306.99 286.87 L307.27 287.04 L307.54 287.21 L307.82 287.38 L308.1 287.54 L308.37 287.71 L308.65 287.87 L308.93 288.04 L309.2 288.2 L309.48 288.37 L309.76 288.53 L310.04 288.7 L310.32 288.86 L310.6 289.02 L310.88 289.18 L311.16 289.34 L311.44 289.51 L311.73 289.67 L312.01 289.83 L312.29 289.99 L312.57 290.15 L312.86 290.31 L313.14 290.47 L313.42 290.63 L313.71 290.78 L313.99 290.94 L314.27 291.1 L314.56 291.26 L314.84 291.42 L315.13 291.58 L315.41 291.74 L315.7 291.89 L315.98 292.05 L316.27 292.21 L316.55 292.37 L316.84 292.53 L317.12 292.69 L317.41 292.84 L317.69 293 L317.98 293.16 L318.26 293.32 L318.54 293.48 L318.83 293.64 L319.11 293.8 L319.4 293.96 L319.68 294.12 L319.97 294.28 L320.25 294.44 L320.53 294.6 L320.82 294.76 L321.1 294.92 L321.38 295.08 L321.66 295.25 L321.95 295.41 L322.23 295.57 L322.51 295.74 L322.79 295.9 L323.07 296.06 L323.35 296.23 L323.63 296.4 L323.91 296.56 L324.19 296.73 L324.47 296.9 L324.75 297.07 L325.02 297.23 L325.3 297.4 L325.58 297.57 L325.85 297.75 L326.13 297.92 L326.4 298.09 L326.68 298.26 L326.95 298.44 L327.22 298.61 L327.5 298.79 L327.77 298.96 L328.04 299.14 L328.31 299.32 L328.58 299.49 L328.85 299.67 L329.12 299.85 L329.39 300.03 L329.66 300.21 L329.93 300.39 L330.2 300.57 L330.47 300.76 L330.73 300.94 L331 301.12 L331.26 301.31 L331.53 301.49 L331.79 301.68 L332.06 301.87 L332.32 302.05 L332.58 302.24 L332.85 302.43 L333.11 302.62 L333.37 302.81 L333.63 303 L333.89 303.19 L334.15 303.38 L334.41 303.57 L334.67 303.77 L334.93 303.96 L335.19 304.16 L335.44 304.35 L335.7 304.55 L335.96 304.74 L336.21 304.94 L336.47 305.14 L336.72 305.34 L336.98 305.54 L337.23 305.74 L337.48 305.94 L337.73 306.14 L337.99 306.34 L338.24 306.54 L338.49 306.74 L338.74 306.95 L338.99 307.15 L339.24 307.36 L339.49 307.56 L339.74 307.77 L339.98 307.97 L340.23 308.18 L340.48 308.39 L340.72 308.6 L340.97 308.81 L341.21 309.02 L341.46 309.23 L341.7 309.44 L341.95 309.65 L342.19 309.86 L342.43 310.08 L342.67 310.29 L342.91 310.51 L343.16 310.72 L343.4 310.94 L343.64 311.15 L343.87 311.37 L344.11 311.59 L344.35 311.8 L344.59 312.02 L344.83 312.24 L345.06 312.46 L345.3 312.68 L345.53 312.91 L345.77 313.13 L346 313.35 L346.24 313.57 L346.47 313.8 L346.7 314.02 L346.93 314.25 L347.17 314.47 L347.4 314.7 L347.63 314.93 L347.86 315.15 L348.09 315.38 L348.32 315.61 L348.54 315.84 L348.77 316.07 L349 316.3 L349.23 316.53 L349.45 316.76 L349.68 316.99 L349.9 317.23 L350.13 317.46 L350.35 317.7 L350.58 317.93 L350.8 318.17 L351.02 318.4 L351.24 318.64 L351.46 318.88 L351.68 319.11 L351.9 319.35 L352.12 319.59 L352.34 319.83 L352.56 320.07 L352.78 320.31 L353 320.55 L353.21 320.8 L353.43 321.04 L353.65 321.28 L353.86 321.53 L354.08 321.77 L354.29 322.02 L354.5 322.26 L354.72 322.51 L354.93 322.75 L355.14 323 L355.35 323.25 L355.56 323.5 L355.77 323.75 L355.98 324 L356.19 324.25 L356.4 324.5 L356.61 324.75 L356.81 325 L357.02 325.26 L357.23 325.51 L357.43 325.76 L357.64 326.02 L357.84 326.27 L358.05 326.53 L358.25 326.79 L358.45 327.04 L358.66 327.3 L358.86 327.56 L359.06 327.82 L359.26 328.08 L359.46 328.34 L359.66 328.6 L359.86 328.86 L360.06 329.12 L360.26 329.38 L360.45 329.64 L360.65 329.91 L360.85 330.17 L361.04 330.43 L361.24 330.7 L518.5 330.6" stroke="#ff7f0e" stroke-width="3.5" fill="none" stroke-linejoin="round" stroke-linecap="butt"/>
<path d="M288.35 240.6 L288.57 241.09 L288.79 241.57 L289.02 242.04 L289.25 242.5 L289.49 242.96 L289.74 243.41 L289.99 243.86 L290.25 244.3 L290.52 244.73 L290.78 245.16 L291.06 245.58 L291.34 245.99 L291.62 246.4 L291.92 246.81 L292.21 247.2 L292.51 247.59 L292.82 247.98 L293.13 248.36 L293.44 248.74 L293.76 249.11 L294.08 249.47 L294.41 249.84 L294.74 250.19 L295.08 250.54 L295.42 250.89 L295.77 251.23 L296.11 251.57 L296.47 251.9 L296.82 252.23 L297.18 252.56 L297.55 252.88 L297.91 253.19 L298.28 253.51 L298.66 253.82 L299.04 254.12 L299.42 254.42 L299.8 254.72 L300.18 255.02 L300.57 255.31 L300.97 255.6 L301.36 255.89 L301.76 256.17 L302.16 256.45 L302.56 256.73 L302.96 257 L303.37 257.28 L303.78 257.55 L304.19 257.82 L304.6 258.08 L305.02 258.35 L305.43 258.61 L305.85 258.87 L306.27 259.13 L306.69 259.38 L307.12 259.64 L307.54 259.89 L307.97 260.15 L308.39 260.4 L308.82 260.65 L309.25 260.9 L309.68 261.14 L310.11 261.39 L310.54 261.64 L310.97 261.88 L311.4 262.13 L311.83 262.37 L312.27 262.62 L312.7 262.86 L313.13 263.11 L313.57 263.35 L314 263.6 L314.43 263.84 L314.87 264.09 L315.3 264.33 L315.73 264.58 L316.17 264.82 L316.6 265.07 L317.03 265.32 L317.46 265.56 L317.89 265.81 L318.32 266.06 L318.75 266.31 L319.18 266.56 L319.61 266.81 L320.04 267.06 L320.47 267.31 L320.9 267.56 L321.33 267.81 L321.76 268.06 L322.18 268.32 L322.61 268.57 L323.04 268.82 L323.46 269.08 L323.89 269.33 L324.32 269.59 L324.74 269.84 L325.17 270.1 L325.59 270.36 L326.01 270.61 L326.44 270.87 L326.86 271.13 L327.29 271.39 L327.71 271.65 L328.13 271.91 L328.55 272.17 L328.97 272.43 L329.39 272.69 L329.81 272.95 L330.23 273.22 L330.65 273.48 L331.07 273.75 L331.49 274.01 L331.91 274.28 L332.33 274.54 L332.75 274.81 L333.16 275.08 L333.58 275.34 L334 275.61 L334.41 275.88 L334.83 276.15 L335.24 276.42 L335.66 276.69 L336.07 276.97 L336.48 277.24 L336.89 277.51 L337.31 277.79 L337.72 278.06 L338.13 278.34 L338.54 278.61 L338.95 278.89 L339.36 279.17 L339.77 279.44 L340.18 279.72 L340.59 280 L341 280.28 L341.4 280.56 L341.81 280.84 L342.22 281.13 L342.62 281.41 L343.03 281.69 L343.43 281.98 L343.83 282.26 L344.24 282.55 L344.64 282.84 L345.04 283.12 L345.44 283.41 L345.85 283.7 L346.25 283.99 L346.65 284.28 L347.05 284.57 L347.45 284.87 L347.84 285.16 L348.24 285.45 L348.64 285.75 L349.04 286.04 L349.43 286.34 L349.83 286.64 L350.22 286.94 L350.62 287.24 L351.01 287.53 L351.4 287.84 L351.79 288.14 L352.19 288.44 L352.58 288.74 L352.97 289.05 L353.36 289.35 L353.75 289.66 L354.14 289.96 L354.52 290.27 L354.91 290.58 L355.3 290.89 L355.68 291.2 L356.07 291.51 L356.45 291.82 L356.84 292.13 L357.22 292.45 L357.61 292.76 L357.99 293.08 L358.37 293.39 L358.75 293.71 L359.13 294.03 L359.51 294.35 L359.89 294.66 L360.27 294.98 L360.65 295.3 L361.03 295.62 L361.41 295.95 L361.78 296.27 L362.16 296.59 L362.54 296.91 L362.91 297.24 L363.29 297.56 L363.66 297.89 L364.04 298.21 L364.41 298.54 L364.79 298.86 L365.16 299.19 L365.54 299.52 L365.91 299.84 L366.28 300.17 L366.66 300.5 L367.03 300.83 L367.4 301.16 L367.77 301.49 L368.14 301.82 L368.52 302.14 L368.89 302.47 L369.26 302.8 L369.63 303.14 L370 303.47 L370.37 303.8 L370.74 304.13 L371.11 304.46 L371.48 304.79 L371.85 305.12 L372.22 305.45 L372.59 305.78 L372.96 306.12 L373.34 306.45 L373.71 306.78 L374.08 307.11 L374.45 307.44 L374.82 307.77 L375.19 308.1 L375.56 308.44 L375.93 308.77 L376.3 309.1 L376.67 309.43 L377.04 309.76 L377.41 310.09 L377.78 310.42 L378.15 310.75 L378.52 311.08 L378.89 311.41 L379.26 311.74 L379.63 312.07 L380 312.4 L380.38 312.73 L380.75 313.06 L381.12 313.39 L381.49 313.71 L381.87 314.04 L382.24 314.37 L382.61 314.69 L382.98 315.02 L383.36 315.35 L383.73 315.67 L384.11 316 L384.48 316.32 L384.86 316.64 L385.23 316.97 L385.61 317.29 L385.98 317.61 L386.36 317.93 L386.74 318.25 L387.12 318.57 L387.49 318.89 L387.87 319.21 L388.25 319.53 L388.63 319.84 L389.01 320.16 L389.4 320.47 L389.78 320.78 L390.16 321.1 L390.54 321.41 L390.93 321.72 L391.32 322.02 L391.7 322.33 L392.09 322.63 L392.48 322.94 L392.87 323.24 L393.26 323.54 L393.65 323.84 L394.04 324.14 L394.43 324.43 L394.83 324.72 L395.23 325.02 L395.62 325.3 L396.02 325.59 L396.42 325.88 L396.82 326.16 L397.23 326.44 L397.63 326.72 L398.03 327 L398.44 327.27 L398.85 327.55 L399.26 327.82 L399.67 328.08 L400.08 328.35 L400.5 328.61 L400.91 328.87 L401.33 329.13 L401.75 329.38 L402.17 329.63 L402.6 329.88 L403.02 330.13 L403.45 330.37 L403.88 330.61 L404.31 330.85 L518.5 330.6" stroke="#2ca02c" stroke-width="3.5" fill="none" stroke-linejoin="round" stroke-linecap="butt"/>
<path d="M288.47 208.91 L288.69 209.65 L288.93 210.37 L289.18 211.07 L289.45 211.76 L289.74 212.44 L290.03 213.1 L290.34 213.74 L290.67 214.37 L291.01 214.99 L291.36 215.59 L291.72 216.18 L292.1 216.75 L292.48 217.32 L292.88 217.87 L293.3 218.4 L293.72 218.93 L294.15 219.44 L294.59 219.95 L295.05 220.44 L295.51 220.91 L295.99 221.38 L296.47 221.84 L296.96 222.29 L297.46 222.73 L297.97 223.15 L298.49 223.57 L299.01 223.98 L299.55 224.38 L300.09 224.78 L300.63 225.17 L301.18 225.55 L301.74 225.92 L302.31 226.29 L302.87 226.65 L303.45 227.01 L304.03 227.36 L304.61 227.7 L305.19 228.05 L305.78 228.39 L306.37 228.72 L306.97 229.06 L307.56 229.39 L308.16 229.72 L308.76 230.05 L309.36 230.37 L309.97 230.7 L310.57 231.03 L311.17 231.35 L311.77 231.68 L312.38 232.01 L312.98 232.33 L313.58 232.66 L314.18 232.99 L314.78 233.32 L315.38 233.65 L315.98 233.98 L316.58 234.31 L317.18 234.65 L317.78 234.98 L318.38 235.31 L318.98 235.65 L319.58 235.98 L320.17 236.32 L320.77 236.65 L321.37 236.99 L321.96 237.33 L322.56 237.67 L323.16 238.01 L323.75 238.35 L324.35 238.69 L324.94 239.03 L325.53 239.37 L326.13 239.72 L326.72 240.06 L327.31 240.41 L327.9 240.75 L328.49 241.1 L329.08 241.45 L329.67 241.8 L330.26 242.15 L330.84 242.5 L331.43 242.85 L332.02 243.2 L332.6 243.56 L333.19 243.91 L333.77 244.27 L334.36 244.63 L334.94 244.99 L335.52 245.35 L336.1 245.71 L336.68 246.07 L337.26 246.43 L337.84 246.8 L338.42 247.17 L338.99 247.53 L339.57 247.9 L340.14 248.27 L340.72 248.64 L341.29 249.01 L341.86 249.39 L342.43 249.76 L343 250.14 L343.57 250.52 L344.14 250.89 L344.71 251.28 L345.27 251.66 L345.84 252.04 L346.4 252.42 L346.96 252.81 L347.53 253.2 L348.09 253.59 L348.65 253.98 L349.2 254.37 L349.76 254.76 L350.32 255.16 L350.87 255.55 L351.42 255.95 L351.98 256.35 L352.53 256.75 L353.08 257.16 L353.63 257.56 L354.17 257.97 L354.72 258.37 L355.27 258.78 L355.81 259.19 L356.35 259.61 L356.9 260.02 L357.44 260.43 L357.98 260.85 L358.52 261.27 L359.05 261.68 L359.59 262.1 L360.13 262.53 L360.66 262.95 L361.19 263.37 L361.73 263.8 L362.26 264.22 L362.79 264.65 L363.32 265.08 L363.85 265.51 L364.38 265.94 L364.91 266.37 L365.43 266.8 L365.96 267.24 L366.49 267.67 L367.01 268.11 L367.53 268.55 L368.06 268.98 L368.58 269.42 L369.1 269.86 L369.62 270.31 L370.14 270.75 L370.66 271.19 L371.18 271.63 L371.7 272.08 L372.22 272.53 L372.73 272.97 L373.25 273.42 L373.76 273.87 L374.28 274.32 L374.79 274.77 L375.31 275.22 L375.82 275.67 L376.33 276.12 L376.85 276.57 L377.36 277.03 L377.87 277.48 L378.38 277.93 L378.89 278.39 L379.4 278.84 L379.91 279.3 L380.42 279.76 L380.93 280.22 L381.44 280.67 L381.95 281.13 L382.45 281.59 L382.96 282.05 L383.47 282.51 L383.98 282.97 L384.48 283.43 L384.99 283.89 L385.49 284.35 L386 284.82 L386.51 285.28 L387.01 285.74 L387.52 286.2 L388.02 286.67 L388.53 287.13 L389.03 287.59 L389.54 288.06 L390.04 288.52 L390.54 288.99 L391.05 289.45 L391.55 289.91 L392.06 290.38 L392.56 290.84 L393.07 291.31 L393.57 291.77 L394.07 292.24 L394.58 292.7 L395.08 293.17 L395.59 293.63 L396.09 294.1 L396.59 294.56 L397.1 295.03 L397.6 295.49 L398.11 295.96 L398.61 296.42 L399.12 296.89 L399.62 297.35 L400.13 297.81 L400.63 298.28 L401.14 298.74 L401.64 299.21 L402.15 299.67 L402.66 300.13 L403.16 300.59 L403.67 301.06 L404.18 301.52 L404.69 301.98 L405.19 302.44 L405.7 302.9 L406.21 303.36 L406.72 303.82 L407.23 304.28 L407.74 304.74 L408.25 305.2 L408.76 305.66 L409.27 306.12 L409.78 306.57 L410.29 307.03 L410.81 307.49 L411.32 307.94 L411.83 308.4 L412.35 308.85 L412.86 309.3 L413.38 309.76 L413.9 310.21 L414.41 310.66 L414.93 311.1 L415.45 311.55 L415.97 311.99 L416.49 312.44 L417.02 312.88 L417.54 313.31 L418.07 313.75 L418.6 314.19 L419.12 314.62 L419.66 315.05 L420.19 315.47 L420.72 315.9 L421.26 316.32 L421.79 316.74 L422.33 317.15 L422.87 317.57 L423.42 317.98 L423.96 318.38 L424.51 318.78 L425.06 319.18 L425.61 319.58 L426.17 319.97 L426.72 320.36 L427.28 320.74 L427.84 321.12 L428.41 321.5 L428.97 321.87 L429.54 322.24 L430.11 322.6 L430.69 322.96 L431.27 323.31 L431.85 323.66 L432.43 324 L433.02 324.34 L433.61 324.67 L434.2 325 L434.8 325.32 L435.4 325.64 L436 325.95 L436.6 326.26 L437.21 326.55 L437.83 326.85 L438.44 327.14 L439.06 327.42 L439.69 327.69 L440.32 327.96 L440.95 328.22 L441.58 328.48 L442.22 328.73 L442.87 328.97 L443.52 329.21 L444.17 329.44 L444.83 329.66 L445.49 329.87 L446.15 330.08 L446.82 330.28 L447.49 330.47 L448.17 330.65 L448.86 330.83 L449.54 331 L518.5 330.6" stroke="#d62728" stroke-width="3.5" fill="none" stroke-linejoin="round" stroke-linecap="butt"/>
<path d="M288.15 169.92 L288.61 170.75 L289.08 171.56 L289.58 172.35 L290.09 173.12 L290.62 173.87 L291.17 174.61 L291.73 175.32 L292.3 176.03 L292.89 176.71 L293.49 177.38 L294.11 178.04 L294.73 178.68 L295.37 179.31 L296.02 179.93 L296.68 180.53 L297.36 181.13 L298.04 181.71 L298.73 182.28 L299.43 182.85 L300.13 183.4 L300.85 183.95 L301.57 184.48 L302.3 185.02 L303.03 185.54 L303.77 186.06 L304.52 186.57 L305.26 187.08 L306.01 187.58 L306.77 188.08 L307.53 188.58 L308.29 189.08 L309.05 189.57 L309.81 190.06 L310.58 190.55 L311.34 191.03 L312.11 191.52 L312.88 192 L313.66 192.48 L314.43 192.96 L315.2 193.43 L315.98 193.91 L316.76 194.38 L317.54 194.86 L318.32 195.33 L319.1 195.8 L319.88 196.27 L320.66 196.74 L321.44 197.21 L322.22 197.68 L323.01 198.15 L323.79 198.62 L324.57 199.08 L325.36 199.55 L326.14 200.02 L326.92 200.49 L327.71 200.96 L328.49 201.43 L329.27 201.91 L330.05 202.38 L330.83 202.85 L331.61 203.33 L332.39 203.8 L333.17 204.28 L333.95 204.76 L334.72 205.24 L335.5 205.73 L336.27 206.21 L337.04 206.7 L337.81 207.19 L338.58 207.68 L339.34 208.17 L340.11 208.67 L340.87 209.17 L341.63 209.67 L342.39 210.18 L343.15 210.68 L343.9 211.19 L344.65 211.71 L345.4 212.22 L346.15 212.74 L346.9 213.26 L347.64 213.78 L348.39 214.31 L349.13 214.84 L349.87 215.37 L350.61 215.9 L351.34 216.43 L352.08 216.97 L352.81 217.51 L353.54 218.05 L354.27 218.59 L355 219.14 L355.73 219.68 L356.45 220.23 L357.18 220.79 L357.9 221.34 L358.62 221.89 L359.34 222.45 L360.06 223.01 L360.78 223.57 L361.49 224.13 L362.21 224.69 L362.92 225.26 L363.63 225.83 L364.34 226.4 L365.05 226.97 L365.76 227.54 L366.47 228.11 L367.17 228.69 L367.88 229.26 L368.58 229.84 L369.29 230.42 L369.99 231 L370.69 231.58 L371.39 232.16 L372.09 232.75 L372.79 233.33 L373.49 233.92 L374.18 234.5 L374.88 235.09 L375.57 235.68 L376.27 236.27 L376.96 236.86 L377.66 237.45 L378.35 238.05 L379.04 238.64 L379.73 239.24 L380.42 239.83 L381.11 240.43 L381.8 241.02 L382.49 241.62 L383.18 242.22 L383.87 242.82 L384.55 243.41 L385.24 244.01 L385.93 244.61 L386.61 245.21 L387.3 245.81 L387.98 246.41 L388.67 247.01 L389.36 247.62 L390.04 248.22 L390.72 248.82 L391.41 249.42 L392.09 250.02 L392.78 250.62 L393.46 251.23 L394.15 251.83 L394.83 252.43 L395.52 253.03 L396.2 253.63 L396.88 254.24 L397.57 254.84 L398.25 255.44 L398.94 256.04 L399.62 256.64 L400.31 257.24 L400.99 257.84 L401.68 258.44 L402.36 259.04 L403.05 259.64 L403.73 260.24 L404.42 260.84 L405.1 261.44 L405.79 262.03 L406.47 262.63 L407.16 263.23 L407.84 263.83 L408.53 264.43 L409.21 265.03 L409.9 265.63 L410.58 266.23 L411.27 266.83 L411.95 267.43 L412.64 268.03 L413.32 268.63 L414 269.23 L414.69 269.83 L415.37 270.43 L416.05 271.03 L416.73 271.63 L417.41 272.24 L418.09 272.84 L418.77 273.44 L419.45 274.05 L420.13 274.65 L420.81 275.26 L421.49 275.87 L422.17 276.47 L422.84 277.08 L423.52 277.69 L424.2 278.3 L424.87 278.91 L425.54 279.53 L426.22 280.14 L426.89 280.75 L427.56 281.37 L428.23 281.98 L428.9 282.6 L429.57 283.22 L430.24 283.84 L430.91 284.46 L431.57 285.08 L432.24 285.7 L432.91 286.32 L433.58 286.94 L434.24 287.56 L434.91 288.18 L435.58 288.8 L436.25 289.42 L436.91 290.04 L437.58 290.66 L438.25 291.28 L438.92 291.9 L439.59 292.52 L440.26 293.13 L440.93 293.75 L441.6 294.36 L442.28 294.98 L442.95 295.59 L443.63 296.2 L444.3 296.81 L444.98 297.42 L445.66 298.02 L446.34 298.63 L447.02 299.23 L447.71 299.83 L448.39 300.43 L449.08 301.03 L449.77 301.62 L450.46 302.21 L451.16 302.8 L451.85 303.39 L452.55 303.97 L453.25 304.55 L453.95 305.13 L454.66 305.7 L455.37 306.27 L456.08 306.84 L456.79 307.4 L457.51 307.97 L458.23 308.52 L458.95 309.08 L459.68 309.63 L460.4 310.17 L461.14 310.71 L461.87 311.25 L462.61 311.79 L463.35 312.31 L464.1 312.84 L464.84 313.36 L465.59 313.87 L466.35 314.39 L467.11 314.89 L467.87 315.39 L468.63 315.89 L469.4 316.38 L470.17 316.87 L470.94 317.35 L471.72 317.82 L472.5 318.29 L473.29 318.75 L474.07 319.21 L474.86 319.66 L475.66 320.11 L476.45 320.55 L477.25 320.98 L478.05 321.41 L478.86 321.83 L479.67 322.25 L480.48 322.66 L481.3 323.06 L482.12 323.45 L482.94 323.84 L483.76 324.22 L484.59 324.6 L485.42 324.96 L486.26 325.32 L487.1 325.68 L487.94 326.02 L488.78 326.36 L489.63 326.69 L490.48 327.01 L491.33 327.33 L492.19 327.63 L493.05 327.93 L493.91 328.22 L494.78 328.5 L495.65 328.78 L496.52 329.04 L497.4 329.3 L498.28 329.55 L499.16 329.79 L500.04 330.02 L500.93 330.24 L501.82 330.45 L502.72 330.65 L503.62 330.85 L504.52 331.03 L518.5 330.6" stroke="#9467bd" stroke-width="3.5" fill="none" stroke-linejoin="round" stroke-linecap="butt"/>
</g>
<rect x="288.3" y="167.7" width="230.2" height="163.3" fill="none" stroke="#000" stroke-width="1.2"/>
<path d="M288.3 331h-2.2M288.3 281.6h-2.2M288.3 232.21h-2.2M288.3 182.81h-2.2" stroke="#000" stroke-width="1" fill="none"/>
<path d="M302.69 331v2.2M374.62 331v2.2M446.56 331v2.2M518.5 331v2.2" stroke="#000" stroke-width="1" fill="none"/>
<text x="54.5" y="172.1" font-size="11.9" text-anchor="end">0</text>
<text x="54.5" y="139.42" font-size="11.9" text-anchor="end">5000</text>
<text x="54.5" y="106.74" font-size="11.9" text-anchor="end">10000</text>
<text x="54.5" y="74.06" font-size="11.9" text-anchor="end">15000</text>
<text x="54.5" y="41.38" font-size="11.9" text-anchor="end">20000</text>
<text x="54.5" y="8.7" font-size="11.9" text-anchor="end">25000</text>
<text x="54.5" y="335.4" font-size="11.9" text-anchor="end">0</text>
<text x="54.5" y="286" font-size="11.9" text-anchor="end">5</text>
<text x="54.5" y="236.61" font-size="11.9" text-anchor="end">10</text>
<text x="54.5" y="187.21" font-size="11.9" text-anchor="end">15</text>
<text x="58.2" y="344.35" font-size="11.9" text-anchor="middle">4</text>
<text x="109.33" y="344.35" font-size="11.9" text-anchor="middle">6</text>
<text x="160.47" y="344.35" font-size="11.9" text-anchor="middle">8</text>
<text x="211.6" y="344.35" font-size="11.9" text-anchor="middle">10</text>
<text x="262.73" y="344.35" font-size="11.9" text-anchor="middle">12</text>
<text x="302.69" y="344.35" font-size="11.9" text-anchor="middle">5</text>
<text x="374.62" y="344.35" font-size="11.9" text-anchor="middle">10</text>
<text x="446.56" y="344.35" font-size="11.9" text-anchor="middle">15</text>
<text x="518.5" y="344.35" font-size="11.9" text-anchor="middle">20</text>
<text x="173.25" y="358.7" font-size="13.5" text-anchor="middle" font-style="italic">z</text>
<text x="403.4" y="358.7" font-size="13.5" text-anchor="middle" font-style="italic">z</text>
<g transform="translate(10.4 85.85) rotate(-90)"><text x="-18.4" y="0" font-size="13.5" font-style="italic">T</text><text x="-9.35" y="2.6" font-size="9.45">0</text><text x="-2.21" y="0" font-size="13.5">[</text><text x="1.52" y="0" font-size="13.5">K</text><text x="12.14" y="0" font-size="13.5">]</text></g>
<g transform="translate(32.2 248.9) rotate(-90)"><text x="-37.21" y="0" font-size="13.5" font-style="italic">u</text><text x="-28.9" y="2.4" font-size="9.45">0</text><text x="-22.21" y="0" font-size="13.5">[</text><text x="-16.57" y="0" font-size="13.5">e</text><text x="-7.31" y="0" font-size="13.5">V</text><text x="2.39" y="0" font-size="13.5">m</text><text x="16.33" y="3.65" font-size="9.45" font-style="italic">P</text><text x="16.39" y="-5.5" font-size="9.45">−</text><text x="24.61" y="-5.5" font-size="9.45">1</text><text x="31.29" y="0" font-size="13.5">]</text></g>
<rect x="181.3" y="9.3" width="102.3" height="76.1" rx="2" ry="2" fill="#fff" fill-opacity="0.8" stroke="#ccc" stroke-opacity="0.8" stroke-width="1"/>
<path d="M185.1 17.4h3.75m5.55 0h3.75" stroke="#1f77b4" stroke-width="3.6" fill="none"/>
<path d="M203.1 17.4h2" stroke="#1f77b4" stroke-width="3.5" stroke-opacity="0.17" fill="none"/>
<text y="19.7" font-size="9.2"><tspan x="212.15" font-style="italic">ζ</tspan><tspan x="217.4">=0.3,</tspan><tspan x="249.2" font-style="italic">z</tspan><tspan font-size="6.44" dy="1.7" font-style="italic">OT</tspan><tspan dy="-1.7" dx="0.3">=9</tspan></text>
<path d="M185.1 31.98h3.75m5.55 0h3.75" stroke="#ff7f0e" stroke-width="3.6" fill="none"/>
<path d="M203.1 31.98h2" stroke="#ff7f0e" stroke-width="3.5" stroke-opacity="0.17" fill="none"/>
<text y="34.28" font-size="9.2"><tspan x="212.15" font-style="italic">ζ</tspan><tspan x="217.4">=0.55,</tspan><tspan x="252.3" font-style="italic">z</tspan><tspan font-size="6.44" dy="1.7" font-style="italic">OT</tspan><tspan dy="-1.7" dx="0.3">=9</tspan></text>
<path d="M185.1 46.56h3.75m5.55 0h3.75" stroke="#2ca02c" stroke-width="3.6" fill="none"/>
<path d="M203.1 46.56h2" stroke="#2ca02c" stroke-width="3.5" stroke-opacity="0.17" fill="none"/>
<text y="48.86" font-size="9.2"><tspan x="212.15" font-style="italic">ζ</tspan><tspan x="217.4">=1.0,</tspan><tspan x="249.2" font-style="italic">z</tspan><tspan font-size="6.44" dy="1.7" font-style="italic">OT</tspan><tspan dy="-1.7" dx="0.3">=9</tspan></text>
<path d="M185.1 61.14h3.75m5.55 0h3.75" stroke="#d62728" stroke-width="3.6" fill="none"/>
<path d="M203.1 61.14h2" stroke="#d62728" stroke-width="3.5" stroke-opacity="0.17" fill="none"/>
<text y="63.44" font-size="9.2"><tspan x="212.15" font-style="italic">ζ</tspan><tspan x="217.4">=1.8,</tspan><tspan x="249.2" font-style="italic">z</tspan><tspan font-size="6.44" dy="1.7" font-style="italic">OT</tspan><tspan dy="-1.7" dx="0.3">=9</tspan></text>
<path d="M185.1 75.72h3.75m5.55 0h3.75" stroke="#9467bd" stroke-width="3.6" fill="none"/>
<path d="M203.1 75.72h2" stroke="#9467bd" stroke-width="3.5" stroke-opacity="0.17" fill="none"/>
<text y="78.02" font-size="9.2"><tspan x="212.15" font-style="italic">ζ</tspan><tspan x="217.4">=3.3,</tspan><tspan x="249.2" font-style="italic">z</tspan><tspan font-size="6.44" dy="1.7" font-style="italic">OT</tspan><tspan dy="-1.7" dx="0.3">=9</tspan></text>
<rect x="411.35" y="9.3" width="102.4" height="76.1" rx="2" ry="2" fill="#fff" fill-opacity="0.8" stroke="#ccc" stroke-opacity="0.8" stroke-width="1"/>
<path d="M413.5 17.4h22.3" stroke="#1f77b4" stroke-width="3.5" fill="none"/>
<text y="19.7" font-size="9.2"><tspan x="442.2" font-style="italic">ζ</tspan><tspan x="447.45">=1.0,</tspan><tspan x="476.35" font-style="italic">z</tspan><tspan font-size="6.44" dy="1.7" font-style="italic">OT</tspan><tspan dy="-1.7" dx="0.3">=7</tspan></text>
<path d="M413.5 31.98h22.3" stroke="#ff7f0e" stroke-width="3.5" fill="none"/>
<text y="34.28" font-size="9.2"><tspan x="442.2" font-style="italic">ζ</tspan><tspan x="447.45">=1.0,</tspan><tspan x="476.35" font-style="italic">z</tspan><tspan font-size="6.44" dy="1.7" font-style="italic">OT</tspan><tspan dy="-1.7" dx="0.3">=9</tspan></text>
<path d="M413.5 46.56h22.3" stroke="#2ca02c" stroke-width="3.5" fill="none"/>
<text y="48.86" font-size="9.2"><tspan x="442.2" font-style="italic">ζ</tspan><tspan x="447.45">=1.0,</tspan><tspan x="476.35" font-style="italic">z</tspan><tspan font-size="6.44" dy="1.7" font-style="italic">OT</tspan><tspan dy="-1.7" dx="0.3">=12</tspan></text>
<path d="M413.5 61.14h22.3" stroke="#d62728" stroke-width="3.5" fill="none"/>
<text y="63.44" font-size="9.2"><tspan x="442.2" font-style="italic">ζ</tspan><tspan x="447.45">=1.0,</tspan><tspan x="476.35" font-style="italic">z</tspan><tspan font-size="6.44" dy="1.7" font-style="italic">OT</tspan><tspan dy="-1.7" dx="0.3">=15</tspan></text>
<path d="M413.5 75.72h22.3" stroke="#9467bd" stroke-width="3.5" fill="none"/>
<text y="78.02" font-size="9.2"><tspan x="442.2" font-style="italic">ζ</tspan><tspan x="447.45">=1.0,</tspan><tspan x="476.35" font-style="italic">z</tspan><tspan font-size="6.44" dy="1.7" font-style="italic">OT</tspan><tspan dy="-1.7" dx="0.3">=19</tspan></text>
</svg></body></html>
